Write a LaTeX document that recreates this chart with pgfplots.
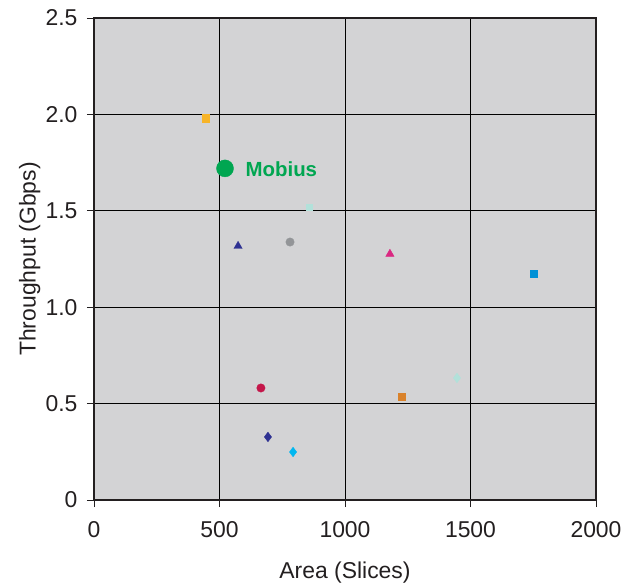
\documentclass[border=0pt]{standalone}
\usepackage{pgfplots}
\pgfplotsset{compat=1.18}
\usepackage{fontspec}
\setmainfont{Liberation Sans}
\definecolor{bg}{RGB}{211,211,213}
\definecolor{axc}{RGB}{35,31,32}
\definecolor{cgold}{RGB}{247,180,40}
\definecolor{cgreen}{RGB}{0,166,81}
\definecolor{cnavy}{RGB}{46,49,146}
\definecolor{cgray}{RGB}{147,149,152}
\definecolor{cpale}{RGB}{178,225,218}
\definecolor{cmag}{RGB}{218,40,130}
\definecolor{cblue}{RGB}{0,144,214}
\definecolor{cred}{RGB}{196,22,74}
\definecolor{ccyan}{RGB}{0,183,240}
\definecolor{corange}{RGB}{217,130,43}
\begin{document}
\begin{tikzpicture}
\begin{axis}[
  scale only axis,
  width=502bp, height=482bp,
  xmin=0, xmax=2000, ymin=0, ymax=2.5,
  xtick={0,500,1000,1500,2000},
  ytick={0,0.5,1,1.5,2,2.5},
  yticklabels={0,0.5,1.0,1.5,2.0,2.5},
  /pgf/number format/assume math mode=true,
  scaled x ticks=false,
  xticklabel style={/pgf/number format/1000 sep={}},
  tick label style={font=\fontsize{23}{26}\selectfont, text=axc},
  label style={font=\fontsize{23}{26}\selectfont, text=axc},
  xlabel={Area (Slices)},
  ylabel={Throughput (Gbps)},
  xlabel style={at={(axis description cs:0.5,0)}, anchor=north, yshift=-58bp},
  ylabel style={at={(axis description cs:0,0.5)}, anchor=south, yshift=50bp},
  tick align=outside,
  tick pos=left,
  major tick length=7bp,
  every tick/.style={axc, line width=0.8bp},
  axis line style={axc, line width=1.2bp},
  grid=major,
  grid style={black, line width=0.9bp},
  axis background/.style={fill=bg},
  xticklabel style={yshift=-11bp},
  yticklabel style={xshift=-6bp},
  clip=false,
]
\addplot[only marks, mark=square*, mark size=3.6bp, color=cgold] coordinates {(446,1.98)};
\addplot[only marks, mark=*, mark size=8.5bp, color=cgreen] coordinates {(522,1.72)};
\addplot[only marks, mark=triangle*, mark size=4.8bp, color=cnavy] coordinates {(574,1.317)};
\addplot[only marks, mark=*, mark size=4.2bp, color=cgray] coordinates {(781,1.338)};
\addplot[only marks, mark=square*, mark size=3bp, color=cpale] coordinates {(857,1.52)};
\addplot[only marks, mark=triangle*, mark size=4.8bp, color=cmag] coordinates {(1179,1.276)};
\addplot[only marks, mark=square*, mark size=3.6bp, color=cblue] coordinates {(1753,1.172)};
\addplot[only marks, mark=*, mark size=4.2bp, color=cred] coordinates {(665,0.581)};
\addplot[only marks, mark=diamond*, mark size=4.8bp, color=cnavy] coordinates {(693,0.327)};
\addplot[only marks, mark=diamond*, mark size=4.8bp, color=ccyan] coordinates {(793,0.249)};
\addplot[only marks, mark=square*, mark size=3.6bp, color=corange] coordinates {(1227,0.534)};
\addplot[only marks, mark=diamond*, mark size=4.8bp, color=cpale] coordinates {(1446,0.633)};
\node[anchor=west, text=cgreen, font=\bfseries\fontsize{20.5}{24}\selectfont] at (axis cs:590,1.715) {Mobius};
\end{axis}
\path ([xshift=-94bp,yshift=-85bp]current axis.south west) rectangle ([xshift=30bp,yshift=18bp]current axis.north east);
\end{tikzpicture}
\end{document}
